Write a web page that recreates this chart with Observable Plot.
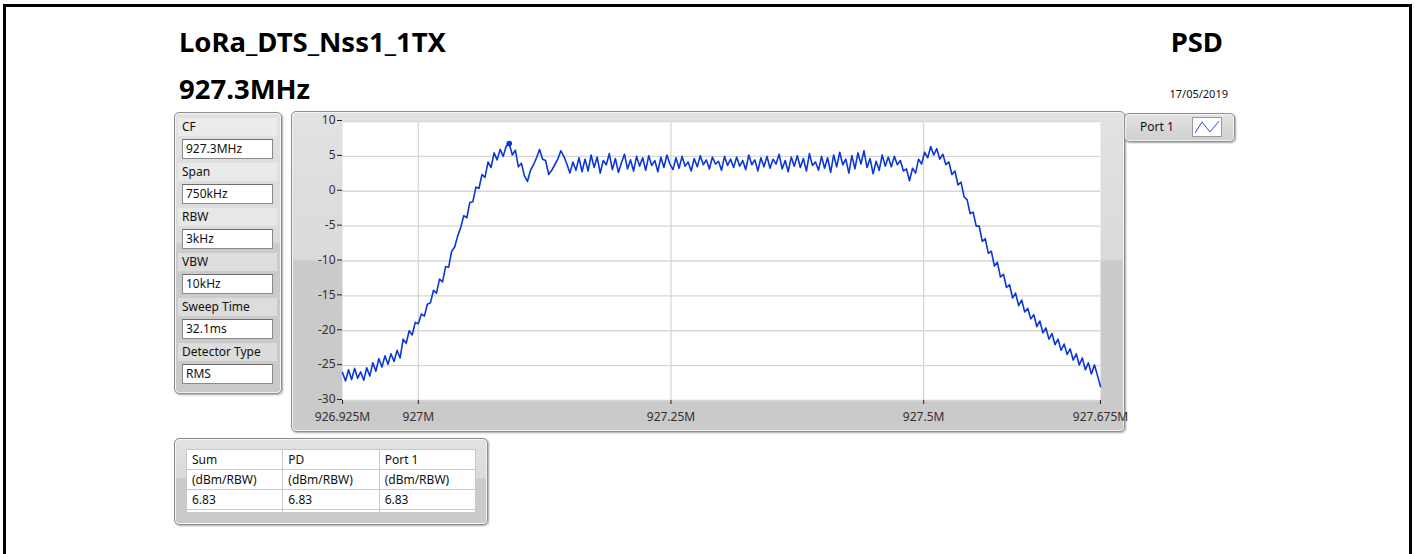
<!DOCTYPE html>
<html>
<head>
<meta charset="utf-8">
<script src="https://cdn.jsdelivr.net/npm/d3@7"></script>
<script src="https://cdn.jsdelivr.net/npm/@observablehq/plot@0.6"></script>
<style>
  html, body { margin: 0; padding: 0; background: #fff; }
  body { width: 1415px; height: 554px; position: relative; overflow: hidden; font-family: "Noto Sans", sans-serif; color: #1a1a1a; }
  .abs { position: absolute; }
  .bar { position: absolute; background: #000; }
  .title { position: absolute; font-weight: bold; font-size: 27.5px; line-height: 32px; color: #000; white-space: nowrap; }
  .panel { position: absolute; box-sizing: border-box; border: 1px solid #8e8e8e; border-radius: 5px;
           box-shadow: 1px 1px 2px rgba(0,0,0,0.35), inset 0 0 0 1px #f3f3f3;
           background: linear-gradient(to bottom, #e2e2e2 0%, #dadada 46%, #cbcbcb 47%, #cacaca 100%); }
  .lbl { position: absolute; font-size: 12px; line-height: 16px; white-space: nowrap; color: #111; }
  .band { position: absolute; left: 3px; width: 99px; height: 18px; background: rgba(255,255,255,0.35); }
  .box { position: absolute; box-sizing: border-box; background: #fff; border: 1px solid #8a8a8a; border-top-color: #6e6e6e;
         font-size: 12px; line-height: 17px; padding-left: 3px; white-space: nowrap; color: #111; }
  table.res { position: absolute; border-collapse: collapse; background: #fff; font-size: 12px; color: #111; }
  table.res td { border: 1px solid #c9c9c9; height: 19px; padding: 0 0 0 5px; line-height: 16px; }
</style>
</head>
<body>
<!-- black frame -->
<div class="bar" style="left:3px; top:4px; width:1409px; height:3px;"></div>
<div class="bar" style="left:3px; top:4px; width:3px; height:550px;"></div>
<div class="bar" style="left:1409px; top:4px; width:3px; height:550px;"></div>

<div class="title" style="left:179px; top:26px;">LoRa_DTS_Nss1_1TX</div>
<div class="title" style="left:179px; top:73px;">927.3MHz</div>
<div class="title" style="right:192px; top:26px;">PSD</div>
<div class="abs" style="right:187px; top:86px; font-size:11px; line-height:16px; color:#111;">17/05/2019</div>

<!-- settings panel -->
<div class="panel" id="settings" style="left:174px; top:112px; width:108px; height:282px;"></div>

<!-- graph panel -->
<div class="panel" style="left:291px; top:111px; width:834px; height:321px;"></div>
<div id="chart" class="abs" style="left:291px; top:111px;"></div>

<!-- legend -->
<div class="panel" style="left:1124px; top:113px; width:111px; height:29px; background: linear-gradient(to bottom, #e4e4e4, #cfcfcf);"></div>
<div class="lbl" style="left:1140px; top:119px;">Port 1</div>
<div class="abs" style="left:1192px; top:117px; width:30px; height:20px; box-sizing:border-box; background:#fff; border:1px solid #9a9a9a;">
  <svg width="28" height="18" style="display:block"><polyline points="2,15 9,4 17,14 26,3" fill="none" stroke="#2a4fd6" stroke-width="1"/></svg>
</div>

<!-- results panel -->
<div class="panel" style="left:174px; top:438px; width:314px; height:87px;"></div>
<div id="table"></div>

<script>
// ---------------- data ----------------
const startMHz = 926.925;     // sweep start (926.925M)
const stepMHz = 0.003;        // sweep point spacing
// PSD trace (dBm/RBW), one value per sweep point
const psd = [
  -26.0, -27.2, -25.6, -27.0, -25.4, -26.8, -25.9, -27.1, -25.3, -26.5,
  -24.6, -25.8, -24.0, -25.2, -23.6, -24.8, -23.3, -24.4, -22.8, -23.9,
  -21.2, -21.8, -20.0, -20.6, -18.8, -19.0, -17.6, -17.9, -16.2, -16.0,
  -14.2, -14.6, -12.6, -13.0, -10.8, -10.9, -8.6, -8.0, -6.4, -5.2,
  -3.5, -3.8, -1.6, -1.5, 0.6, 0.4, 2.4, 2.0, 4.2, 3.4,
  5.5, 4.5, 6.0, 5.0, 6.5, 6.83, 5.2, 5.9, 3.5, 4.0,
  2.2, 1.4, 3.0, 3.8, 4.8, 6.0, 4.6, 4.4, 2.4, 3.0,
  3.8, 4.6, 5.8, 5.0, 3.9, 2.6, 4.2, 3.0, 4.8, 2.8,
  4.6, 2.9, 5.2, 3.4, 4.9, 2.6, 4.4, 3.8, 5.4, 3.1,
  4.7, 2.7, 4.1, 5.3, 3.2, 4.5, 2.9, 5.0, 3.6, 4.8,
  3.0, 5.1, 3.7, 4.4, 2.8, 4.9, 3.4, 5.2, 3.9, 3.1,
  4.8, 3.3, 5.0, 3.6, 4.2, 2.9, 4.7, 3.5, 5.1, 3.8,
  4.5, 3.2, 4.9, 3.9, 4.3, 3.0, 5.0, 3.7, 4.6, 3.4,
  4.9, 3.6, 4.4, 3.1, 5.2, 3.8, 4.5, 2.9, 4.8, 3.5,
  5.0, 3.3, 4.6, 3.9, 5.3, 3.2, 4.4, 2.8, 4.9, 3.6,
  5.1, 3.4, 4.7, 2.9, 5.4, 3.7, 4.2, 3.0, 5.0, 3.3,
  4.8, 2.7, 5.2, 3.5, 5.6, 3.8, 4.6, 2.6, 5.1, 3.2,
  5.5, 3.9, 5.8, 3.4, 4.7, 2.5, 4.3, 3.0, 5.2, 3.6,
  4.9, 3.5, 5.0, 3.8, 4.4, 2.9, 3.2, 1.5, 3.3, 2.6,
  4.6, 3.9, 5.6, 4.8, 6.4, 5.2, 6.1, 4.6, 5.3, 3.8,
  4.2, 2.4, 2.9, 0.9, 1.3, -0.8, -1.2, -3.2, -3.0, -5.0,
  -5.0, -7.2, -6.8, -8.9, -8.6, -10.7, -10.2, -12.3, -11.9, -13.8,
  -13.4, -15.3, -14.6, -16.4, -15.6, -17.3, -16.8, -18.3, -17.7, -19.4,
  -18.6, -20.3, -19.6, -21.2, -20.4, -22.0, -21.2, -22.8, -21.9, -23.4,
  -22.6, -24.2, -23.3, -24.9, -23.9, -25.6, -24.6, -26.2, -24.9, -26.4,
  -28.0
];
const peakMHz = 927.09;   // marker position
const peakValue = 6.83;   // marker value (dBm/RBW)

const xTicks = [926.925, 927.0, 927.25, 927.5, 927.675];
const xTickLabels = ["926.925M", "927M", "927.25M", "927.5M", "927.675M"];
const xGrid = [927.0, 927.25, 927.5];
const yTicks = [10, 5, 0, -5, -10, -15, -20, -25, -30];
const yTickLabels = ["10", "5", "0", "-5", "-10", "-15", "-20", "-25", "-30"];

const settingNames = ["CF", "Span", "RBW", "VBW", "Sweep Time", "Detector Type"];
const settingValues = ["927.3MHz", "750kHz", "3kHz", "10kHz", "32.1ms", "RMS"];

const tableHeaders = ["Sum", "PD", "Port 1"];
const tableUnits = ["(dBm/RBW)", "(dBm/RBW)", "(dBm/RBW)"];
const tableValues = ["6.83", "6.83", "6.83"];

// ---------------- settings panel ----------------
const settings = document.getElementById("settings");
settingNames.forEach((name, i) => {
  const y0 = 4 + i * 45;
  const band = document.createElement("div");
  band.className = "band"; band.style.top = (y0 + 1) + "px";
  settings.appendChild(band);
  const l = document.createElement("div");
  l.className = "lbl"; l.style.left = "7px"; l.style.top = (y0 + 2) + "px"; l.textContent = name;
  settings.appendChild(l);
  const b = document.createElement("div");
  b.className = "box"; b.style.left = "7px"; b.style.top = (y0 + 22) + "px";
  b.style.width = "91px"; b.style.height = "20px"; b.textContent = settingValues[i];
  settings.appendChild(b);
});

// ---------------- results table ----------------
const tbl = document.createElement("table");
tbl.className = "res";
tbl.style.left = "186px"; tbl.style.top = "449px"; tbl.style.width = "290px";
[tableHeaders, tableUnits, tableValues, ["", "", ""]].forEach((row, r) => {
  const tr = document.createElement("tr");
  row.forEach(c => {
    const td = document.createElement("td");
    td.textContent = c; td.style.width = "92px";
    if (r === 3) { td.style.height = "2px"; td.style.lineHeight = "2px"; td.style.borderBottom = "none"; }
    tr.appendChild(td);
  });
  tbl.appendChild(tr);
});
document.getElementById("table").appendChild(tbl);

// ---------------- chart ----------------
const trace = psd.map((v, i) => ({f: startMHz + i * stepMHz, v}));
const xLab = new Map(xTicks.map((t, i) => [t, xTickLabels[i]]));
const yLab = new Map(yTicks.map((t, i) => [t, yTickLabels[i]]));

const chart = Plot.plot({
  width: 834,
  height: 321,
  marginLeft: 51,
  marginRight: 25,
  marginTop: 10,
  marginBottom: 32,
  style: {background: "transparent", fontFamily: "'Noto Sans', sans-serif", fontSize: "12px", overflow: "visible", color: "#2e2626"},
  x: {domain: [926.925, 927.675], axis: null},
  y: {domain: [-30, 10], axis: null},
  marks: [
    Plot.frame({fill: "white", stroke: null}),
    Plot.gridX(xGrid, {stroke: "#d6d6d6", strokeOpacity: 1, strokeWidth: 1.3}),
    Plot.gridY(yTicks, {stroke: "#d6d6d6", strokeOpacity: 1, strokeWidth: 1.3}),
    Plot.line(trace, {x: "f", y: "v", stroke: "#0b37d6", strokeWidth: 1.6}),
    Plot.dot([{f: peakMHz, v: peakValue}], {x: "f", y: "v", r: 2.8, fill: "#0b37d6", stroke: null}),
    Plot.axisX(xTicks, {label: null, tickFormat: d => xLab.get(d), tickSize: 4, tickPadding: 8, stroke: "#222", fill: "#3a2c2c", fontSize: 12}),
    Plot.axisY(yTicks, {label: null, tickFormat: d => yLab.get(d), tickSize: 5, tickPadding: 2, dy: -1, stroke: "#222", fill: "#3a2c2c", fontSize: 12})
  ]
});
document.getElementById("chart").appendChild(chart);
</script>
</body>
</html>
